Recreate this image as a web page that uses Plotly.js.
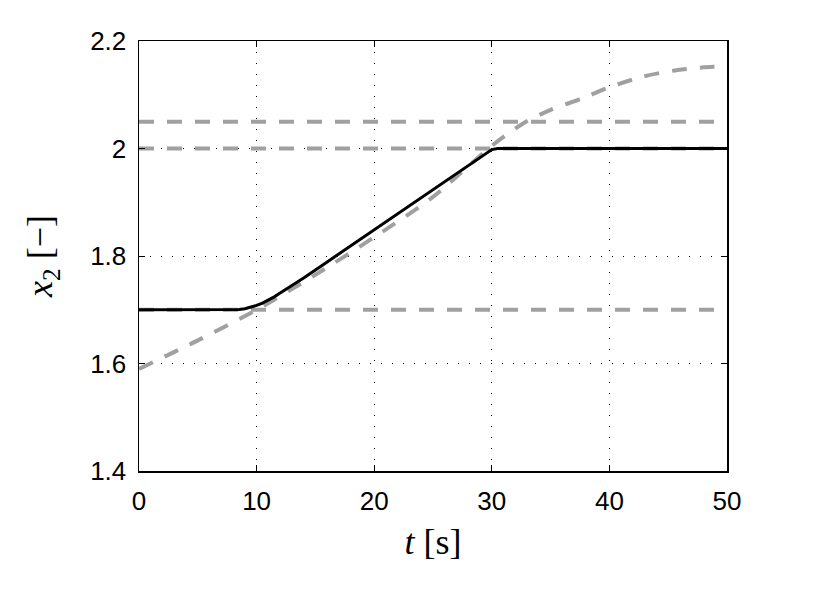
<!DOCTYPE html>
<html>
<head>
<meta charset="utf-8">
<script src="https://cdn.plot.ly/plotly-3.0.1.min.js"></script>
<style>
  html, body { margin: 0; padding: 0; background: #fff; }
  #plotly_graph { width: 829px; height: 590px; }
</style>
</head>
<body>
<div id="plotly_graph"></div>
<script>
// *********************************************************************************************
// DATA

const T_STATE = [0, 8, 8.5, 9, 9.5, 10, 10.5, 11, 11.5, 12, 13, 14, 16, 18, 20, 22, 24, 26, 28, 29, 29.5, 30, 30.5, 50]
const X2_STATE = [1.7, 1.7, 1.7005, 1.702, 1.7045, 1.708, 1.7125, 1.718, 1.724, 1.731, 1.745, 1.759,
                  1.789, 1.819, 1.849, 1.879, 1.909, 1.939, 1.969, 1.984, 1.992, 1.998, 2.0, 2.0]

const T_REF = [0, 5, 10, 15, 20, 25, 30, 32.7, 35, 37.8, 40, 42.9, 45.8, 48.8, 50]
const X2_REF = [1.59, 1.643, 1.70, 1.765, 1.835, 1.91, 2.005, 2.047, 2.072, 2.094, 2.114, 2.134, 2.146, 2.152, 2.152]

const T_SPAN = [0, 50]
const UPPER_BOUND = [2.05, 2.05]
const SETPOINT = [2.0, 2.0]
const LOWER_BOUND = [1.7, 1.7]

const X_TICKS = [0, 10, 20, 30, 40, 50]
const Y_TICKS = [1.4, 1.6, 1.8, 2.0, 2.2]
const Y_TICK_LABELS = ['1.4', '1.6', '1.8', '2', '2.2']


// *********************************************************************************************
// TRACES

const GREY = '#a0a0a0'
const greyDash = { color: GREY, width: 4, dash: '15px,13px' }

let hlines = [UPPER_BOUND, SETPOINT, LOWER_BOUND].map(y => ({
    type: 'scatter', mode: 'lines',
    x: T_SPAN, y: y,
    line: greyDash,
    hoverinfo: 'skip'
}))

let refTrace = {
    type: 'scatter', mode: 'lines',
    x: T_REF, y: X2_REF,
    line: { color: GREY, width: 4, dash: '15px,13px', shape: 'spline', smoothing: 0.8 }
}

let stateTrace = {
    type: 'scatter', mode: 'lines',
    x: T_STATE, y: X2_STATE,
    line: { color: '#000', width: 3 }
}

let data = [...hlines, refTrace, stateTrace]


// *********************************************************************************************
// LAYOUT

const mathFont = { family: 'Liberation Serif, DejaVu Serif, serif', size: 36, color: '#000' }

const axisCommon = {
    showline: true, linecolor: '#000', linewidth: 1.5, mirror: 'ticks',
    ticks: 'inside', ticklen: 6, tickwidth: 1, tickcolor: '#000',
    showgrid: true, gridcolor: '#000', gridwidth: 1, griddash: '1px,10px',
    zeroline: false,
    tickfont: { family: 'Liberation Sans, Arial, sans-serif', size: 26, color: '#000' }
}

let layout = {
    width: 829, height: 590,
    margin: { t: 41, r: 102, b: 119, l: 139 },
    paper_bgcolor: '#fff', plot_bgcolor: '#fff',
    showlegend: false,
    xaxis: Object.assign({}, axisCommon, {
        range: [0, 50],
        tickvals: X_TICKS,
        ticklabelstandoff: 6,
        title: { text: '<i>t</i> [s]', font: mathFont, standoff: 14 }
    }),
    yaxis: Object.assign({}, axisCommon, {
        range: [1.4, 2.2],
        tickvals: Y_TICKS,
        ticktext: Y_TICK_LABELS,
        ticklabelstandoff: 6,
        title: { text: '<i>x</i><sub>2</sub> [−]', font: mathFont, standoff: 26 }
    })
}


// *********************************************************************************************
// CONFIG

const config = {
    displaylogo: false,
    displayModeBar: false,
    staticPlot: true
}

Plotly.newPlot('plotly_graph', data, layout, config)
</script>
</body>
</html>
